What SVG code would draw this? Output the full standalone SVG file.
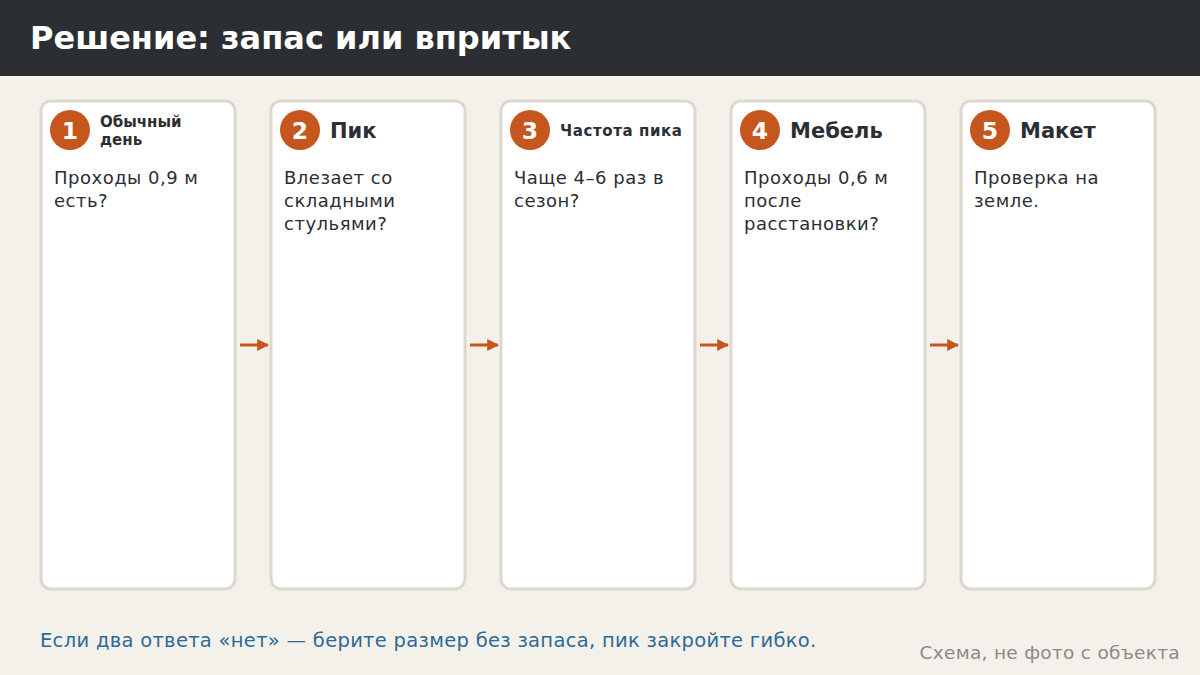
<svg xmlns="http://www.w3.org/2000/svg" width="1200" height="675" viewBox="0 0 1200 675">
<defs>
<marker id="ah" viewBox="0 0 10 10" refX="9" refY="5" markerWidth="4" markerHeight="4" orient="auto" markerUnits="strokeWidth">
<path d="M0,0 L10,5 L0,10 Z" fill="#c4561e"/>
</marker>
</defs>
<style>
.card{fill:#ffffff;stroke:#ddd8cf;stroke-width:3}
.badge{fill:#c4561e}
.num{font-family:"DejaVu Sans",sans-serif;font-weight:bold;font-size:23.5px;fill:#ffffff;text-anchor:middle}
.ttl{font-family:"DejaVu Sans",sans-serif;font-weight:bold;font-size:21px;fill:#2b2e33}
.ttls{font-family:"DejaVu Sans",sans-serif;font-weight:bold;font-size:15px;fill:#2b2e33}
.body{font-family:"DejaVu Sans",sans-serif;font-size:18px;letter-spacing:0.5px;fill:#2b2e33}
.conn{stroke:#c4561e;stroke-width:3;fill:none}
</style>
<rect x="0" y="0" width="1200" height="675" fill="#f4f1eb"/>
<rect x="0" y="0" width="1200" height="76" fill="#2b2e33"/>
<text x="30" y="49" font-family="DejaVu Sans, sans-serif" font-weight="bold" font-size="32" fill="#ffffff">Решение: запас или впритык</text>

<g id="node1">
<rect class="card" x="41" y="101" width="194" height="488" rx="10"/>
<circle class="badge" cx="70" cy="130" r="20"/>
<text class="num" x="70" y="138.5">1</text>
<text class="ttls" x="100" y="127">Обычный</text>
<text class="ttls" x="100" y="145">день</text>
<text class="body" x="54" y="184">Проходы 0,9 м</text>
<text class="body" x="54" y="207">есть?</text>
</g>
<g id="node2">
<rect class="card" x="271" y="101" width="194" height="488" rx="10"/>
<circle class="badge" cx="300" cy="130" r="20"/>
<text class="num" x="300" y="138.5">2</text>
<text class="ttl" x="330" y="138">Пик</text>
<text class="body" x="284" y="184">Влезает со</text>
<text class="body" x="284" y="207">складными</text>
<text class="body" x="284" y="230">стульями?</text>
</g>
<g id="node3">
<rect class="card" x="501" y="101" width="194" height="488" rx="10"/>
<circle class="badge" cx="530" cy="130" r="20"/>
<text class="num" x="530" y="138.5">3</text>
<text class="ttls" x="560" y="136" font-size="17" letter-spacing="0.6">Частота пика</text>
<text class="body" x="514" y="184">Чаще 4–6 раз в</text>
<text class="body" x="514" y="207">сезон?</text>
</g>
<g id="node4">
<rect class="card" x="731" y="101" width="194" height="488" rx="10"/>
<circle class="badge" cx="760" cy="130" r="20"/>
<text class="num" x="760" y="138.5">4</text>
<text class="ttl" x="790" y="138">Мебель</text>
<text class="body" x="744" y="184">Проходы 0,6 м</text>
<text class="body" x="744" y="207">после</text>
<text class="body" x="744" y="230">расстановки?</text>
</g>
<g id="node5">
<rect class="card" x="961" y="101" width="194" height="488" rx="10"/>
<circle class="badge" cx="990" cy="130" r="20"/>
<text class="num" x="990" y="138.5">5</text>
<text class="ttl" x="1020" y="138">Макет</text>
<text class="body" x="974" y="184">Проверка на</text>
<text class="body" x="974" y="207">земле.</text>
</g>

<g id="connectors">
<line class="conn" x1="240" y1="345" x2="268" y2="345" marker-end="url(#ah)"/>
<line class="conn" x1="470" y1="345" x2="498" y2="345" marker-end="url(#ah)"/>
<line class="conn" x1="700" y1="345" x2="728" y2="345" marker-end="url(#ah)"/>
<line class="conn" x1="930" y1="345" x2="958" y2="345" marker-end="url(#ah)"/>
</g>

<text x="40" y="647" font-family="DejaVu Sans, sans-serif" font-size="19.5" letter-spacing="0.3" fill="#2e6a96">Если два ответа «нет» — берите размер без запаса, пик закройте гибко.</text>
<text x="1180" y="659" text-anchor="end" font-family="DejaVu Sans, sans-serif" font-size="18.5" letter-spacing="0.3" fill="#8a8a8a">Схема, не фото с объекта</text>
</svg>
